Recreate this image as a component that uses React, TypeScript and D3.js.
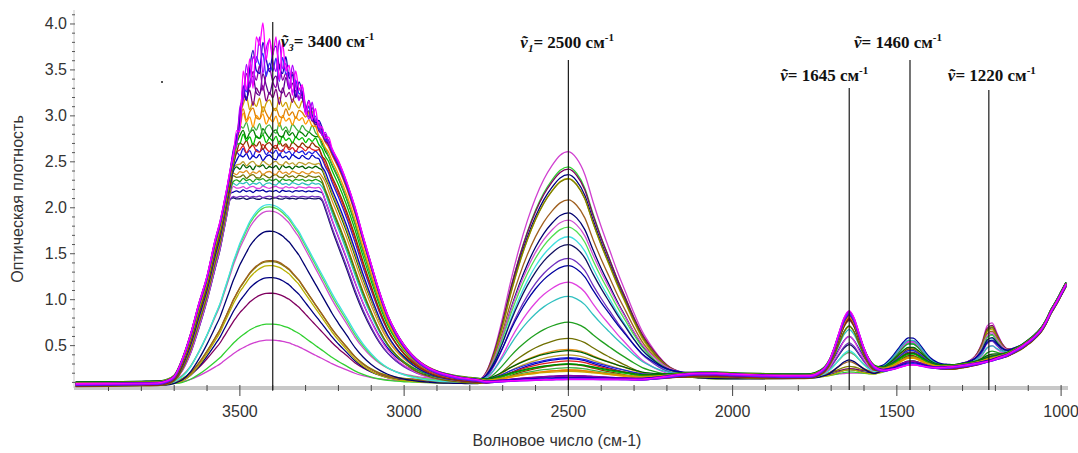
import React from "react";
import * as d3 from "d3";

const W = 1078;
const H = 453;

// ---------- wavenumber grid (cm-1) ----------
const wnHead = [4000, 3900, 3800, 3750];
const wnOH1 = d3.range(3725, 3574, -25); // 7
const wnOH2 = d3.range(3560, 3219, -10); // 35
const wnOH3 = d3.range(3200, 2774, -25); // 18
const wnOD = d3.range(2750, 2199, -25); // 23
const wnMid = [2150, 2100, 2050, 2000, 1950, 1900, 1850, 1800, 1765];
const wnLow = d3.range(1735, 984, -15); // 51

// ---------- common baseline ----------
const baseHead = [0.075, 0.078, 0.082, 0.085];
const baseOH1 = [0.086, 0.086, 0.087, 0.087, 0.088, 0.088, 0.089];
const baseOH2 = [
  0.089, 0.089, 0.089, 0.089, 0.089, 0.09, 0.09, 0.09, 0.09, 0.09,
  0.09, 0.09, 0.09, 0.09, 0.09, 0.09, 0.09, 0.09, 0.09, 0.09,
  0.091, 0.091, 0.091, 0.091, 0.091, 0.091, 0.091, 0.091, 0.091, 0.091,
  0.092, 0.092, 0.092, 0.092, 0.092,
];
const baseOH3 = [0.092, 0.093, 0.093, 0.094, 0.094, 0.095, 0.095, 0.096, 0.096, 0.097, 0.097, 0.098, 0.098, 0.099, 0.099, 0.1, 0.1, 0.1];
const baseOD = [0.1, 0.1, 0.101, 0.102, 0.103, 0.104, 0.105, 0.106, 0.107, 0.108, 0.11, 0.111, 0.112, 0.114, 0.115, 0.116, 0.118, 0.119, 0.12, 0.122, 0.124, 0.126, 0.128];
const baseMid = [0.132, 0.136, 0.14, 0.143, 0.146, 0.149, 0.152, 0.156, 0.16];
const baseLow = [
  0.163, 0.166, 0.169, 0.172, 0.175, 0.177, 0.18, 0.182, 0.185, 0.188,
  0.19, 0.193, 0.196, 0.2, 0.203, 0.207, 0.21, 0.214, 0.218, 0.222,
  0.226, 0.23, 0.235, 0.24, 0.245, 0.25, 0.256, 0.262, 0.268, 0.275,
  0.282, 0.29, 0.298, 0.307, 0.317, 0.33, 0.35, 0.37, 0.39, 0.42,
  0.45, 0.48, 0.52, 0.56, 0.61, 0.67, 0.76, 0.87, 0.96, 1.06,
  1.16,
];

// ---------- band profiles (normalised) ----------
const ohBroad = [
  0.005, 0.019, 0.071, 0.145, 0.235, 0.317, 0.426,
  0.481, 0.527, 0.577, 0.631, 0.686, 0.74, 0.795, 0.844, 0.885, 0.921,
  0.948, 0.97, 0.986, 0.995, 1.0, 0.997, 0.989, 0.978, 0.964, 0.951,
  0.934, 0.918, 0.902, 0.885, 0.869, 0.852, 0.836, 0.82, 0.803, 0.787,
  0.77, 0.754, 0.738, 0.719, 0.699,
  0.658, 0.596, 0.522, 0.434, 0.35, 0.268, 0.199, 0.148, 0.109, 0.079, 0.057, 0.041, 0.03, 0.022, 0.016, 0.011, 0.008, 0.005,
];
const ohNarrow = [
  0, 0.01, 0.03, 0.08, 0.16, 0.26, 0.37,
  0.44, 0.5, 0.56, 0.62, 0.68, 0.73, 0.78, 0.82, 0.86, 0.9,
  0.93, 0.955, 0.975, 0.99, 0.998, 1.0, 1.0, 0.995, 0.985, 0.97,
  0.95, 0.93, 0.9, 0.87, 0.84, 0.8, 0.76, 0.72, 0.68, 0.64,
  0.6, 0.56, 0.52, 0.48, 0.44,
  0.37, 0.29, 0.21, 0.15, 0.105, 0.072, 0.05, 0.035, 0.025, 0.018, 0.012, 0.008, 0.005, 0.003, 0.002, 0.001, 0, 0,
];
// saturation noise patterns on the 3560..3220 segment
const rippleA = [0.2, -0.5, 0.9, -0.1, 0.3, -0.8, 0.5, 0.1, 1.0, -0.6, 0.4, -0.2, 0.8, -0.9, 0.2, 0.6, -0.3, -0.7, 0.9, -0.2, 0.3, -0.6, 0.7, 0.1, -0.4, 0.5, -0.2, -0.5, 0.6, -0.1, 0.2, -0.4, 0.3, 0.0, -0.2];
const rippleB = [-0.3, 0.6, 0.1, 0.8, -0.6, 0.2, -0.7, 1.0, -0.2, 0.5, -0.9, 0.7, 0.2, 0.9, -0.5, 0.3, -0.2, 0.6, -0.8, 0.7, -0.1, 0.3, -0.6, 0.5, 0.0, 0.4, -0.5, 0.2, -0.3, 0.4, -0.2, 0.1, -0.3, 0.3, -0.1];
const rippleC = [0.4, -0.1, -0.6, 0.5, 0.9, -0.4, -0.2, 0.7, -0.8, 0.3, 0.8, -0.5, -0.7, 1.0, 0.1, -0.6, 0.4, 0.8, -0.3, -0.5, 0.7, -0.2, 0.3, -0.6, 0.5, 0.2, -0.4, 0.4, -0.1, -0.3, 0.3, 0.2, -0.3, 0.1, -0.2];

const odWn = [...wnOD, 2150, 2100];
const odProfile = [0.04, 0.14, 0.28, 0.44, 0.58, 0.7, 0.8, 0.88, 0.94, 0.985, 1.0, 0.97, 0.9, 0.78, 0.67, 0.57, 0.47, 0.38, 0.29, 0.21, 0.15, 0.1, 0.06, 0.02, 0.006];
const combWn = [2250, 2225, 2200, 2150, 2100, 2050, 2000, 1950, 1900, 1850, 1800, 1765];
const combProfile = [0.15, 0.3, 0.5, 0.85, 1.0, 0.9, 0.7, 0.5, 0.35, 0.22, 0.12, 0.07];
const wn1645 = d3.range(1735, 1524, -15);
const prof1645 = [0.06, 0.12, 0.24, 0.44, 0.68, 0.9, 1.0, 0.88, 0.64, 0.4, 0.22, 0.11, 0.05, 0.02, 0.01];
const wn1460 = d3.range(1555, 1344, -15);
const prof1460 = [0.08, 0.16, 0.3, 0.48, 0.68, 0.87, 0.99, 0.97, 0.82, 0.6, 0.38, 0.22, 0.12, 0.06, 0.03];
const wn1220 = d3.range(1300, 1119, -15);
const prof1220 = [0.03, 0.06, 0.12, 0.26, 0.52, 0.9, 0.95, 0.64, 0.34, 0.15, 0.07, 0.03, 0.01];

// ---------- per-spectrum values (38 spectra) ----------
const ohAmp = [
  0.46, 0.65, 0.96, 1.15, 1.29, 1.31, 1.33, 1.67, 1.85, 1.91, 1.95,
  3.2, 3.22, 3.25, 3.27, 3.3, 3.32, 3.34, 3.36, 3.38, 3.4, 3.42, 3.44, 3.46, 3.48, 3.5, 3.52, 3.54, 3.56, 3.58, 3.6,
  3.6, 3.61, 3.62, 3.63, 3.64, 3.65, 3.66,
];
const ohBroadWeight = [
  0, 0, 0, 0, 0, 0, 0, 0.1, 0.15, 0.2, 0.25,
  0.3, 0.34, 0.38, 0.42, 0.46, 0.5, 0.54, 0.58, 0.62, 0.66, 0.7, 0.74, 0.78, 0.82, 0.85, 0.88, 0.91, 0.94, 0.97, 1.0,
  1, 1, 1, 1, 1, 1, 1,
];
const ohCap: (number | null)[] = [
  null, null, null, null, null, null, null, null, null, null, null,
  2.1, 2.12, 2.18, 2.22, 2.26, 2.3, 2.34, 2.38, 2.44, 2.48, 2.55, 2.6, 2.64, 2.68, 2.74, 2.8, 2.86, 2.95, 3.02, 3.12,
  3.22, 3.32, 3.42, 3.52, 3.6, 3.68, null,
];
const noiseAmp = [
  0, 0, 0, 0, 0, 0, 0, 0, 0, 0, 0,
  0.01, 0.01, 0.015, 0.015, 0.02, 0.02, 0.025, 0.025, 0.03, 0.03, 0.04, 0.045, 0.05, 0.05, 0.06, 0.06, 0.07, 0.08, 0.08, 0.09,
  0.12, 0.14, 0.16, 0.18, 0.2, 0.24, 0.3,
];
const odPeak = [
  2.6, 2.45, 2.4, 2.36, 2.33, 2.3, 2.08, 1.96, 1.84, 1.78,
  1.69, 1.58, 1.45, 1.34, 1.2, 1.02, 0.75, 0.6, 0.45, 0.42,
  0.4, 0.37, 0.35, 0.33, 0.31, 0.29, 0.27, 0.26, 0.24, 0.22,
  0.2, 0.18, 0.17, 0.16, 0.15, 0.14, 0.13, 0.125,
];
const amp1645 = [
  0.01, 0.04, 0.05, 0.06, 0.07, 0.08, 0.14, 0.18, 0.22, 0.24,
  0.27, 0.31, 0.35, 0.39, 0.43, 0.48, 0.53, 0.55, 0.58, 0.59,
  0.6, 0.61, 0.61, 0.62, 0.62, 0.63, 0.63, 0.64, 0.64, 0.65,
  0.65, 0.66, 0.66, 0.67, 0.67, 0.68, 0.68, 0.69,
];
const amp1460 = [
  0.06, 0.12, 0.14, 0.16, 0.18, 0.19, 0.24, 0.27, 0.29, 0.3,
  0.31, 0.32, 0.33, 0.34, 0.34, 0.33, 0.3, 0.28, 0.25, 0.24,
  0.23, 0.22, 0.21, 0.2, 0.19, 0.18, 0.17, 0.16, 0.15, 0.14,
  0.13, 0.12, 0.11, 0.1, 0.09, 0.08, 0.07, 0.06,
];
const amp1220 = [
  0.43, 0.4, 0.39, 0.385, 0.38, 0.375, 0.34, 0.32, 0.3, 0.29,
  0.27, 0.25, 0.23, 0.21, 0.19, 0.16, 0.11, 0.09, 0.06, 0.055,
  0.05, 0.045, 0.04, 0.037, 0.034, 0.03, 0.027, 0.025, 0.022, 0.02,
  0.017, 0.015, 0.013, 0.011, 0.009, 0.007, 0.005, 0.003,
];
const ampComb = [
  0, 0.004, 0.006, 0.008, 0.01, 0.011, 0.014, 0.017, 0.02, 0.022,
  0.024, 0.026, 0.028, 0.03, 0.032, 0.034, 0.036, 0.038, 0.04, 0.041,
  0.042, 0.043, 0.044, 0.045, 0.046, 0.047, 0.048, 0.049, 0.05, 0.05,
  0.051, 0.052, 0.052, 0.053, 0.054, 0.054, 0.055, 0.055,
];
const baseShift = [
  0.01, -0.005, 0.02, 0, -0.01, 0.015, 0.005, -0.015, 0.025, 0.01,
  -0.005, 0.02, 0, 0.03, -0.01, 0.015, 0.005, -0.02, 0.01, 0.025,
  0, -0.01, 0.02, 0.005, -0.015, 0.01, 0.03, 0, -0.005, 0.015,
  0.02, -0.01, 0.005, 0.01, -0.005, 0.015, 0, 0.01,
];
const colors = [
  "#d040d0", "#30d030", "#800060", "#000080", "#b8b000", "#808000", "#a06020", "#000070", "#d050d0", "#50e050",
  "#40e0e0", "#101060", "#7030c0", "#0000a0", "#e040e0", "#30c0c0", "#20a020", "#707000", "#e09020", "#006000",
  "#c0a030", "#0000c0", "#2020e0", "#e02020", "#903000", "#00c000", "#008000", "#40b040", "#ff9900", "#e08000",
  "#d0a000", "#800080", "#600090", "#9000b0", "#3030ff", "#2000c0", "#b000ff", "#ff00ff",
];

// ---------- axes & annotations ----------
const xTickValues = [3500, 3000, 2500, 2000, 1500, 1000];
const yTickValues = [0.5, 1.0, 1.5, 2.0, 2.5, 3.0, 3.5, 4.0];
const markers = [
  { wn: 3400, sub: "3", value: "3400", lineTop: 22, dx: 8, ty: 47 },
  { wn: 2500, sub: "1", value: "2500", lineTop: 60, dx: -48, ty: 48 },
  { wn: 1645, sub: "", value: "1645", lineTop: 88, dx: -69, ty: 81 },
  { wn: 1460, sub: "", value: "1460", lineTop: 60, dx: -56, ty: 48 },
  { wn: 1220, sub: "", value: "1220", lineTop: 90, dx: -41, ty: 81 },
];

function lookup(wns: number[], vals: number[]) {
  const m = new Map<number, number>();
  wns.forEach((w, i) => m.set(w, vals[i]));
  return (w: number) => m.get(w) ?? 0;
}

function smin(a: number, b: number, k: number) {
  const m = Math.min(a, b);
  return m - k * Math.log(Math.exp(-(a - m) / k) + Math.exp(-(b - m) / k));
}

export default function App() {
  const x = d3.scaleLinear().domain([4005, 979]).range([74, 1068]);
  const y = d3.scaleLinear().domain([0.039, 4.152]).range([388, 10]);

  const wavenumbers = [...wnHead, ...wnOH1, ...wnOH2, ...wnOH3, ...wnOD, ...wnMid, ...wnLow];
  const baseline = [...baseHead, ...baseOH1, ...baseOH2, ...baseOH3, ...baseOD, ...baseMid, ...baseLow];
  const wnOH = [...wnOH1, ...wnOH2, ...wnOH3];
  const fBroad = lookup(wnOH, ohBroad);
  const fNarrow = lookup(wnOH, ohNarrow);
  const ripples = [rippleA, rippleB, rippleC].map((r) => lookup(wnOH2, r));
  const fOD = lookup(odWn, odProfile);
  const fComb = lookup(combWn, combProfile);
  const f1645 = lookup(wn1645, prof1645);
  const f1460 = lookup(wn1460, prof1460);
  const f1220 = lookup(wn1220, prof1220);
  const base2500 = baseline[wavenumbers.indexOf(2500)];

  const spectra = ohAmp.map((amp, k) =>
    wavenumbers.map((wn, i) => {
      const base = baseline[i] + baseShift[k];
      const wb = ohBroadWeight[k];
      const t = amp * ((1 - wb) * fNarrow(wn) + wb * fBroad(wn));
      const cap = ohCap[k];
      const capA = cap == null ? Infinity : cap - base;
      let oh = cap == null ? t : smin(t, capA, 0.025);
      if (noiseAmp[k] > 0) {
        const capEff = Math.min(capA, 3.0);
        const w = Math.max(0, Math.min(1, (t - 0.8 * capEff) / (0.2 * capEff)));
        oh += ripples[k % 3](wn) * noiseAmp[k] * w;
      }
      const od = (odPeak[k] - base2500) * fOD(wn);
      const v =
        base + oh + od + ampComb[k] * fComb(wn) +
        amp1645[k] * f1645(wn) + amp1460[k] * f1460(wn) + amp1220[k] * f1220(wn);
      return [wn, v] as [number, number];
    })
  );

  const line = d3
    .line<[number, number]>()
    .x((d) => x(d[0]))
    .y((d) => y(d[1]))
    .curve(d3.curveMonotoneX);

  const yMinor = d3.range(1, 42).map((i) => i / 10);
  const xMinor = d3.range(3900, 999, -100);
  const sans = "'Liberation Sans', Arial, sans-serif";
  const serif = "'Liberation Serif', 'Times New Roman', 'DejaVu Serif', serif";

  return (
    <div style={{ position: "absolute", left: 0, top: 0 }}>
      <svg width={W} height={H} style={{ display: "block" }}>
        <rect width={W} height={H} fill="#fff" />

        {/* y axis */}
        <line x1={74} x2={74} y1={10} y2={388} stroke="#c8c8c8" strokeWidth={1} />
        {yMinor.map((v, i) => (
          <line
            key={"ym" + i}
            x1={(i + 1) % 5 === 0 ? 70 : 72}
            x2={75}
            y1={y(v)}
            y2={y(v)}
            stroke="#555"
            strokeWidth={1}
          />
        ))}
        {yTickValues.map((v) => (
          <text key={"yt" + v} x={67} y={y(v) + 5.5} textAnchor="end" fontFamily={sans} fontSize={16} fill="#333">
            {v.toFixed(1)}
          </text>
        ))}
        <text
          transform={`translate(23, ${(10 + 388) / 2}) rotate(-90)`}
          textAnchor="middle"
          fontFamily={sans}
          fontSize={16}
          fill="#333"
        >
          Оптическая плотность
        </text>

        {/* x axis */}
        <rect x={74} y={386} width={994} height={4} fill="#c8c8c8" />
        {xMinor.map((v) => (
          <line
            key={"xm" + v}
            x1={x(v)}
            x2={x(v)}
            y1={385}
            y2={v % 500 === 0 ? 396 : 391}
            stroke="#444"
            strokeWidth={1}
          />
        ))}
        {xTickValues.map((v) => (
          <text key={"xt" + v} x={x(v)} y={417} textAnchor="middle" fontFamily={sans} fontSize={16} fill="#333">
            {v}
          </text>
        ))}
        <text x={557} y={446} textAnchor="middle" fontFamily={sans} fontSize={16} fill="#333">
          Волновое число (см-1)
        </text>

        {/* spectra */}
        <g fill="none" strokeWidth={1.3} strokeLinejoin="round">
          {spectra.map((s, k) => (
            <path key={"s" + k} d={line(s) || ""} stroke={colors[k]} />
          ))}
        </g>

        {/* stray dot */}
        <rect x={161} y={81} width={2} height={2} fill="#555" />

        {/* annotation lines and labels */}
        {markers.map((m) => (
          <g key={"mk" + m.wn}>
            <line x1={x(m.wn)} x2={x(m.wn)} y1={m.lineTop} y2={390} stroke="#1a1a1a" strokeWidth={1.2} />
            <text x={x(m.wn) + m.dx} y={m.ty} fontFamily={serif} fontSize={17} fontWeight="bold" fill="#111">
              <tspan fontStyle="italic">ṽ</tspan>
              {m.sub ? (
                <tspan fontStyle="italic" fontSize={11} dy={4}>
                  {m.sub}
                </tspan>
              ) : null}
              <tspan dy={m.sub ? -4 : 0}>{"= " + m.value + " см"}</tspan>
              <tspan fontSize={11} dy={-7}>
                -1
              </tspan>
            </text>
          </g>
        ))}
      </svg>
    </div>
  );
}
